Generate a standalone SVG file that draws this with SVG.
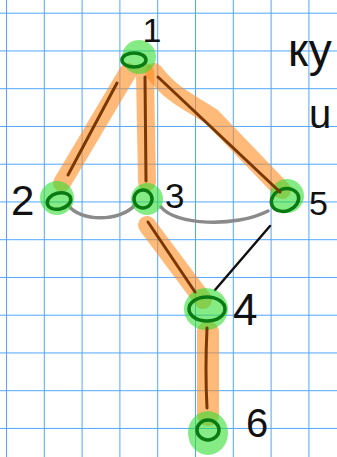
<svg xmlns="http://www.w3.org/2000/svg" width="337" height="457" viewBox="0 0 337 457">
  <defs>
    <pattern id="grid" patternUnits="userSpaceOnUse" x="6" y="12.7" width="37.8" height="37.75">
      <path d="M0,0 H37.8 M0,0 V37.75" fill="none" stroke="#4fa6ff" stroke-width="2"/>
    </pattern>
  </defs>
  <style>
    .hl { fill: none; stroke: #ff8a20; stroke-opacity: 0.6; stroke-width: 18; stroke-linecap: round; stroke-linejoin: round; }
    .br { fill: none; stroke: #7a3800; stroke-width: 3; stroke-linecap: round; }
    .gr { fill: none; stroke: #8a8a8a; stroke-width: 3.5; stroke-linecap: round; }
    .bk { fill: none; stroke: #111; stroke-width: 2.5; stroke-linecap: round; }
    .blob { fill: #33dd33; fill-opacity: 0.6; }
    .ring { fill: none; stroke: #0a7a12; stroke-width: 3.5; }
    .lbl { font-family: "Liberation Sans", "DejaVu Sans", sans-serif; fill: #111; }
  </style>
  <rect width="337" height="457" fill="#ffffff"/>
  <rect width="337" height="457" fill="url(#grid)"/>

  <g id="connectors">
    <path class="hl" d="M128,72 L62,183"/>
    <path class="hl" d="M145,72 L147,182"/>
    <path class="hl" d="M154,72 C172,96 190,102 212,117 L282,190"/>
    <path class="hl" d="M147,225 L203,300"/>
    <path class="hl" d="M208,332 L208,415" style="stroke-width:22"/>
    <path class="gr" d="M68,205 C80,222 120,222 135,205"/>
    <path class="gr" d="M161,207 C175,225 235,228 268,211"/>
    <path class="bk" d="M270,226 L215,290"/>
  </g>

  <g id="node1">
    <circle class="blob" cx="139" cy="57" r="17"/>
    <ellipse class="ring" cx="134" cy="60" rx="12" ry="7"/>
    <text class="lbl" x="152" y="42" font-size="34" text-anchor="middle">1</text>
  </g>
  <g id="node2">
    <circle class="blob" cx="57" cy="198" r="17"/>
    <ellipse class="ring" cx="59" cy="201" rx="12" ry="8" transform="rotate(-15 59 201)"/>
    <text class="lbl" x="11" y="215" font-size="42">2</text>
  </g>
  <g id="node3">
    <circle class="blob" cx="147" cy="199" r="16"/>
    <ellipse class="ring" cx="143" cy="199" rx="9" ry="9"/>
    <text class="lbl" x="165" y="208" font-size="35">3</text>
  </g>
  <g id="node5">
    <circle class="blob" cx="287" cy="196" r="17"/>
    <ellipse class="ring" cx="285" cy="200" rx="14" ry="11" transform="rotate(-20 285 200)"/>
    <text class="lbl" x="309" y="215" font-size="34">5</text>
  </g>
  <g id="node4">
    <ellipse class="blob" cx="206" cy="309" rx="22" ry="21"/>
    <ellipse class="ring" cx="207" cy="309" rx="18" ry="12"/>
    <text class="lbl" x="233" y="325" font-size="44">4</text>
  </g>
  <g id="node6">
    <ellipse class="blob" cx="208" cy="433" rx="20" ry="22"/>
    <ellipse class="ring" cx="208" cy="430" rx="11" ry="10"/>
    <text class="lbl" x="246" y="437" font-size="40">6</text>
  </g>

  <g id="brown-lines">
    <path class="br" d="M117,83 L68,175"/>
    <path class="br" d="M145,77 L146,181"/>
    <path class="br" d="M158,77 L280,192"/>
    <path class="br" d="M148,222 L195,292"/>
    <path class="br" d="M207,328 Q205,370 207,408"/>
  </g>

  <text class="lbl" x="288" y="66" font-size="46">ку</text>
  <text class="lbl" x="309" y="128" font-size="40">u</text>
</svg>
